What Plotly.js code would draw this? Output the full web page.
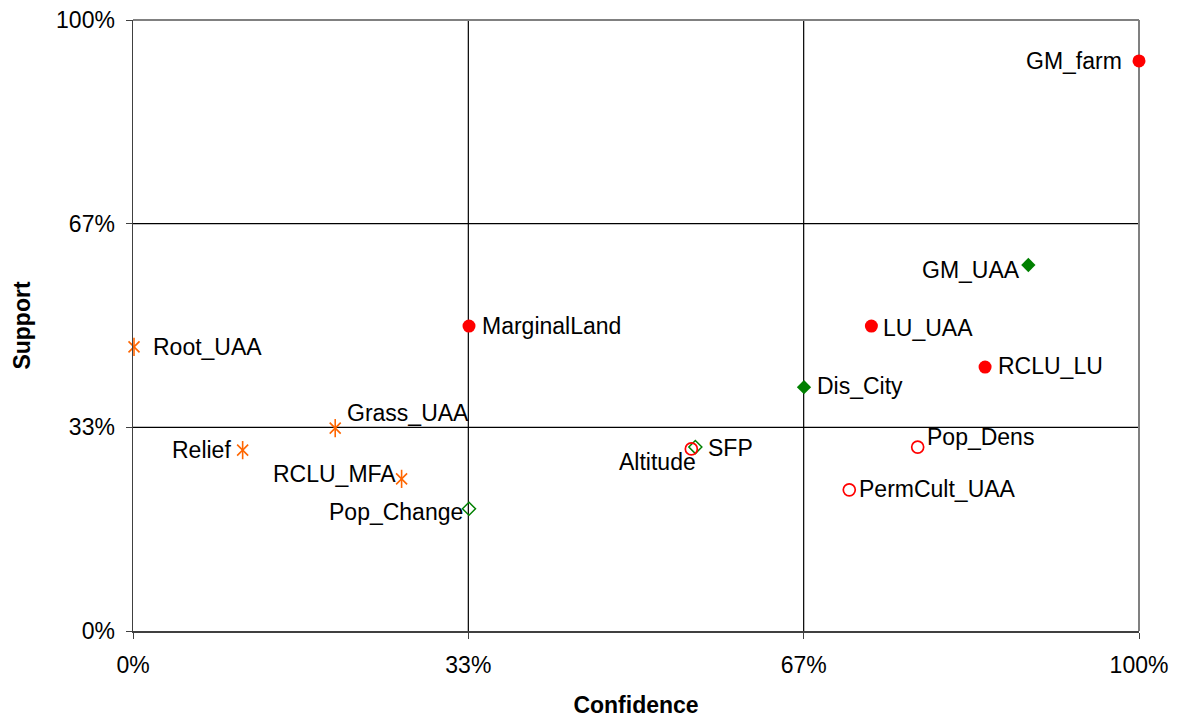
<!DOCTYPE html>
<html>
<head>
<meta charset="utf-8">
<script src="https://cdn.plot.ly/plotly-3.0.1.min.js"></script>
<style>html,body{margin:0;padding:0;background:#fff;}#chart{width:1178px;height:718px;}</style>
</head>
<body>
<div id="chart"></div>
<script>
// Data (Confidence, Support)
const redFilledNames = ["GM_farm", "MarginalLand", "LU_UAA", "RCLU_LU"];
const redFilledConf = [1.000, 0.334, 0.734, 0.847];
const redFilledSupp = [0.933, 0.499, 0.499, 0.432];

const greenFilledNames = ["GM_UAA", "Dis_City"];
const greenFilledConf = [0.890, 0.667];
const greenFilledSupp = [0.599, 0.399];

const orangeStarNames = ["Root_UAA", "Grass_UAA", "Relief", "RCLU_MFA"];
const orangeStarConf = [0.001, 0.201, 0.109, 0.267];
const orangeStarSupp = [0.465, 0.332, 0.296, 0.249];

const greenOpenNames = ["Pop_Change", "SFP"];
const greenOpenConf = [0.334, 0.559];
const greenOpenSupp = [0.200, 0.301];

const redOpenNames = ["Altitude", "Pop_Dens", "PermCult_UAA"];
const redOpenConf = [0.555, 0.780, 0.712];
const redOpenSupp = [0.298, 0.301, 0.231];

const tickVals = [0, 1/3, 2/3, 1];
const tickText = ["0%", "33%", "67%", "100%"];

// label placement (anchor, xshift, yshift) in pixels
const labelPlace = {
  "GM_farm": ["right", -15, 0],
  "MarginalLand": ["left", 11, 0],
  "LU_UAA": ["left", 10, -2],
  "RCLU_LU": ["left", 11, 1],
  "GM_UAA": ["right", -6, -5],
  "Dis_City": ["left", 11, 1],
  "Root_UAA": ["left", 17, 0],
  "Grass_UAA": ["left", 10, 15],
  "Relief": ["right", -10, 0],
  "RCLU_MFA": ["right", -4, 5],
  "Pop_Change": ["right", -4, -3],
  "SFP": ["left", 11, -1],
  "Altitude": ["right", 7, -13],
  "Pop_Dens": ["left", 7, 10],
  "PermCult_UAA": ["left", 8, 1]
};

const FONT = "Liberation Sans, Arial, sans-serif";
const FS = 23;
const RED = "#FF0000", GREEN = "#008000", ORANGE = "#FF6600";

const traces = [
  {x: redFilledConf, y: redFilledSupp, mode: "markers", type: "scatter", cliponaxis: false,
   marker: {symbol: "circle", size: 13, color: RED}},
  {x: greenFilledConf, y: greenFilledSupp, mode: "markers", type: "scatter", cliponaxis: false,
   marker: {symbol: "diamond", size: 11, color: GREEN}},
  {x: orangeStarConf, y: orangeStarSupp, mode: "markers", type: "scatter", cliponaxis: false,
   marker: {symbol: "x-thin-open", size: 11, color: ORANGE, line: {color: ORANGE, width: 1.6}}},
  {x: orangeStarConf, y: orangeStarSupp, mode: "markers", type: "scatter", cliponaxis: false,
   marker: {symbol: "line-ns-open", size: 13, color: ORANGE, line: {color: ORANGE, width: 1.6}}},
  {x: greenOpenConf, y: greenOpenSupp, mode: "markers", type: "scatter", cliponaxis: false,
   marker: {symbol: "diamond-open", size: 10, color: GREEN, line: {color: GREEN, width: 1.5}}},
  {x: redOpenConf, y: redOpenSupp, mode: "markers", type: "scatter", cliponaxis: false,
   marker: {symbol: "circle-open", size: 12, color: RED, line: {color: RED, width: 1.7}}}
];

const annotations = [];
function addLabels(names, xs, ys) {
  names.forEach((n, i) => {
    const p = labelPlace[n];
    annotations.push({x: xs[i], y: ys[i], xref: "x", yref: "y", text: n, showarrow: false,
      xanchor: p[0], yanchor: "middle", xshift: p[1], yshift: p[2],
      font: {family: FONT, size: FS, color: "#000"}});
  });
}
addLabels(redFilledNames, redFilledConf, redFilledSupp);
addLabels(greenFilledNames, greenFilledConf, greenFilledSupp);
addLabels(orangeStarNames, orangeStarConf, orangeStarSupp);
addLabels(greenOpenNames, greenOpenConf, greenOpenSupp);
addLabels(redOpenNames, redOpenConf, redOpenSupp);

const shapes = [];
[1/3, 2/3].forEach(v => {
  shapes.push({type: "line", xref: "x", yref: "paper", x0: v, x1: v, y0: 0, y1: 1, layer: "below", line: {color: "#000", width: 1.2}});
  shapes.push({type: "line", xref: "paper", yref: "y", x0: 0, x1: 1, y0: v, y1: v, layer: "below", line: {color: "#000", width: 1.2}});
});
shapes.push({type: "line", xref: "paper", yref: "paper", x0: 0, x1: 1, y0: 1, y1: 1, layer: "below", line: {color: "#808080", width: 2}});
shapes.push({type: "line", xref: "paper", yref: "paper", x0: 1, x1: 1, y0: 0, y1: 1, layer: "below", line: {color: "#808080", width: 2}});

const layout = {
  width: 1178, height: 718,
  margin: {l: 133, r: 39, t: 20, b: 87},
  paper_bgcolor: "#fff", plot_bgcolor: "#fff",
  showlegend: false,
  font: {family: FONT, size: FS, color: "#000"},
  xaxis: {range: [0, 1], tickvals: tickVals, ticktext: tickText, showgrid: false, zeroline: false,
    showline: true, linecolor: "#404040", linewidth: 1.5, ticks: "outside", ticklen: 6, tickcolor: "#404040",
    tickfont: {family: FONT, size: FS}, ticklabelstandoff: 7,
    title: {text: "<b>Confidence</b>", font: {family: FONT, size: FS}, standoff: 20}},
  yaxis: {range: [0, 1], tickvals: tickVals, ticktext: tickText, showgrid: false, zeroline: false,
    showline: true, linecolor: "#404040", linewidth: 1.5, ticks: "outside", ticklen: 6, tickcolor: "#404040",
    tickfont: {family: FONT, size: FS}, ticklabelstandoff: 6,
    title: {text: "<b>Support</b>", font: {family: FONT, size: FS}, standoff: 19}},
  shapes: shapes,
  annotations: annotations
};

Plotly.newPlot("chart", traces, layout, {displayModeBar: false, staticPlot: true});
</script>
</body>
</html>
